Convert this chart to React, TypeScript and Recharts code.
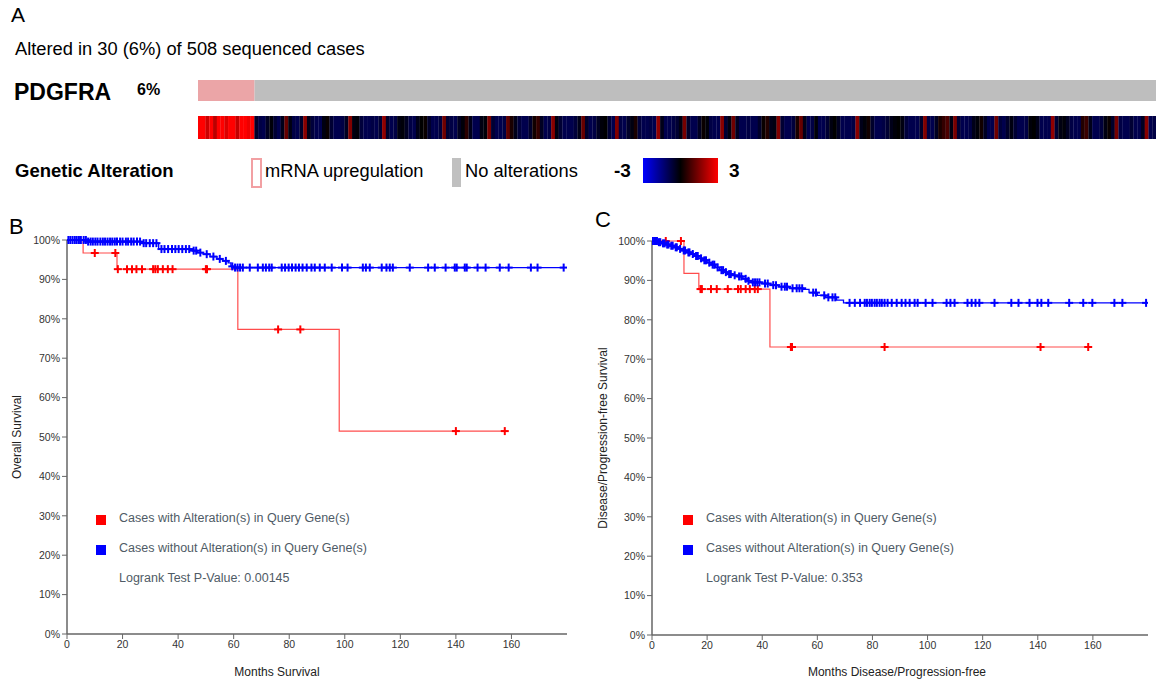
import { BarChart, Bar, Cell, XAxis, YAxis, ComposedChart, Line } from "recharts";

// ---- panel A: oncoprint ----
const GENE = "PDGFRA";
const ALTERED_CASES = 30;
const UNALTERED_CASES = 478;

// mRNA z-scores, one stripe = 2 cases (altered block first)
const HEAT_ALTERED = [3, 3, 2.4, 3, 2.2, 3, 3, 2.6, 3, 3, 2.3, 3, 3, 2.8, 3];
const HEAT_UNALTERED = [
  -0.5, -0.8, -0.9, -0.4, -0.1, -0.6, -0.9, -0.3, 1.2, -0.2, -0.8, -0.9, -0.5, 1.6, -0.3, -0.7, -0.9, -0.9, -0.2, 0.1, -0.6, -0.9, -0.9, -0.8, -0.4, 1.5, -0.2, -0.1, -0.7, -0.9,
  -0.9, -0.8, -0.9, -0.6, 1.7, -0.5, -0.9, -0.8, -0.2, -0.1, -0.4, -0.8, -0.9, -0.3, 0.0, 0.1, -0.5, -0.9, -0.9, -0.7, 1.3, -0.6, -0.8, -0.9, -0.4, -0.1, 0.5, -0.3, -0.9, -0.9,
  -0.2, -0.1, 1.4, -0.6, -0.9, -0.9, -0.8, 1.1, 0.3, -0.3, -0.7, -0.9, -0.9, -0.5, 0.2, 0.6, -0.4, -0.9, -0.8, 1.6, -0.2, -0.6, -0.9, -0.9, -0.9, -0.7, -0.3, 1.2, -0.5, -0.9,
  -0.8, -0.4, -0.1, 0.0, -0.6, -0.9, 1.5, -0.8, -0.9, -0.5, -0.2, 0.3, -0.7, -0.9, -0.9, -0.8, -0.9, 1.7, -0.3, -0.9, -0.9, -0.8, -0.6, -0.2, 1.4, -0.5, -0.9, -0.9, -0.4, 0.1,
  -0.1, -0.8, -0.9, -0.9, 1.6, -0.6, -0.2, 1.3, -0.4, -0.9, -0.9, -0.8, -0.9, -0.9, -0.5, 0.1, 0.4, -0.3, -0.2, 1.5, -0.6, -0.9, -0.9, -0.7, 0.3, 1.2, -0.3, -0.9, -0.8, -0.1,
  -0.9, -0.9, -0.6, -0.2, 0.0, -0.4, -0.9, -0.9, -0.9, -0.8, 1.6, -0.3, -0.1, 0.2, -0.5, -0.9, -0.9, -0.8, -0.6, -0.3, -0.1, 0.0, -0.2, -0.7, -0.9, -0.9, -0.9, -0.5, 1.5, -0.8,
  -0.9, -0.4, 0.3, 0.6, 0.9, -0.2, 1.4, -0.6, -0.9, -0.9, -0.8, -0.3, -0.1, 0.2, -0.4, -0.9, -0.9, 1.3, -0.7, -0.9, -0.5, -0.2, -0.6, -0.9, -0.9, -0.8, -0.1, 0.0, -0.3, -0.9,
  -0.9, -0.9, 1.7, -0.6, -0.2, -0.1, -0.4, -0.8, -0.9, -0.9, 0.4, 0.7, -0.3, -0.9, -0.9, -0.7, -0.2, 0.1, -0.5, 1.4, -0.8, -0.9, -0.9, -0.6, -0.9, -0.9, -0.4, 1.6, -0.9, -0.8,
];

// ---- panel B: overall survival (months, %) ----
const OS_ALT_STEPS: [number, number][] = [[0, 100], [5.8, 96.7], [18, 92.6], [61.5, 77.3], [98, 51.5]];
const OS_ALT_CENSOR = [10, 17.4, 18.3, 21.6, 23.4, 25, 27, 31, 31.8, 32.7, 34.5, 36.3, 38, 50, 50.4, 76, 84, 140, 157.6];
const OS_UNALT_STEPS: [number, number][] = [
  [0, 100], [7, 99.6], [27, 99.2], [33, 97.7], [45, 97.3], [47, 96.8], [49, 96.4],
  [51.5, 95.8], [54, 95.2], [56, 94.7], [58, 94.2], [59, 93.3], [60, 93.0],
];
const OS_UNALT_CENSOR = [
  0.5, 1.2, 2, 2.8, 3.5, 4.3, 5, 6, 6.8, 7.6, 8.5, 9.3, 10.2, 11, 12, 12.9, 13.7, 14.6, 15.5, 16.3, 17.2, 18, 19.1, 20, 21.2, 22, 23.1, 24,
  25.2, 26.3, 27.6, 28.5, 29.8, 31, 32.2, 34, 35.1, 36.4, 37.8, 39, 40.2, 41.5, 42.8, 44, 45.6, 46.5, 48, 50.3, 52.7, 55, 57.2, 59.5,
  60.5, 61.4, 62.3, 63.3, 65.8, 68.7, 70.5, 71.6, 72.8, 73.7, 77.3, 78.5, 79.8, 81, 82.3, 83.5, 84.8, 86.3, 88, 89.2, 91, 92.8, 95.3,
  99, 101, 106.5, 107.6, 109, 113.3, 115, 116.2, 117.3, 123.4, 130, 132.4, 136.3, 139.6, 140.3, 143.2, 143.9, 147.8, 150.7, 155.8,
  159, 167, 169.4, 178.8,
];

// ---- panel C: disease/progression-free survival ----
const DFS_ALT_STEPS: [number, number][] = [[0, 100], [11.6, 91.8], [17, 87.8], [42.8, 73.1]];
const DFS_ALT_CENSOR = [5, 10.5, 17.6, 18.1, 21.4, 23.5, 27.5, 31.2, 32.2, 34, 35.5, 37.3, 38.4, 50.4, 50.8, 84.4, 141, 158.3];
const DFS_UNALT_STEPS: [number, number][] = [
  [0, 100], [2, 99.7], [3.5, 99.4], [5, 99.1], [6.5, 98.8], [8, 98.4], [9.5, 98.0], [11, 97.6], [12.5, 97.1],
  [14, 96.7], [15.5, 96.2], [17, 95.6], [18.5, 95.1], [20, 94.5], [21.5, 94.0], [23, 93.3], [24.5, 92.6],
  [26, 92.1], [27.5, 91.6], [29, 91.3], [31, 91.0], [33, 90.4], [34.5, 89.9], [36, 89.5], [40, 89.2],
  [43, 88.8], [46, 88.4], [50, 88.0], [55, 87.7], [57, 86.9], [60, 86.2], [63, 85.7], [67, 85.0], [69.5, 84.3],
];
const DFS_UNALT_CENSOR = [
  0.3, 0.8, 1.3, 1.8, 2.5, 3, 4, 4.6, 5.5, 6, 7, 7.5, 8.6, 9, 10.2, 11.5, 12, 13.2, 13.6, 14.8, 16, 16.6, 17.8, 19, 19.6, 20.8, 22,
  22.6, 23.8, 25.2, 25.8, 26.8, 28, 28.6, 30, 31.6, 32.4, 34, 35, 36.6, 37.4, 38.2, 39, 41, 42, 44, 45, 47, 48.2, 49, 51, 52.5, 53.5,
  54.5, 58.5, 59.5, 62.5, 64, 65.5, 66.5, 71.7, 73.6, 75.5, 77.2, 78, 79, 79.8, 80.8, 81.6, 82.6, 83.4, 84.4, 85.5, 87, 88.8, 90.6,
  92, 93.5, 95.3, 96.4, 99.3, 101.8, 106.9, 108.3, 109.8, 114.5, 116, 117.4, 118.8, 124.3, 130.4, 133, 137, 139.9, 141.3, 143.8,
  151.4, 156.5, 159.8, 167.8, 170.7, 179.3,
];

const MONTH_TICKS = [0, 20, 40, 60, 80, 100, 120, 140, 160];
const PCT_TICKS = [0, 10, 20, 30, 40, 50, 60, 70, 80, 90, 100];

const RED = "#ff0000";
const BLUE = "#0000ff";
const FONT = "Arial, 'Liberation Sans', Helvetica, sans-serif";

function zColor(z: number) {
  const k = Math.min(1, Math.abs(z) / 3);
  const c = Math.round(255 * k);
  return z >= 0 ? `rgb(${c},0,0)` : `rgb(0,0,${c})`;
}

function buildCurve(steps: [number, number][], censor: number[]) {
  const levelAt = (t: number) => {
    let s = steps[0][1];
    for (const [st, sv] of steps) if (st <= t) s = sv;
    return s;
  };
  const pts = [
    ...steps.map(([t, s]) => ({ t, s, c: false })),
    ...censor.map((t) => ({ t, s: levelAt(t), c: true })),
  ];
  return pts.sort((a, b) => a.t - b.t || Number(a.c) - Number(b.c));
}

const censorDot = (color: string) => (props: any) => {
  const { cx, cy, payload, index } = props;
  if (!payload || !payload.c) return <g key={`n${index}`} />;
  return (
    <g key={`c${index}`} stroke={color} strokeWidth={2}>
      <line x1={cx - 4} x2={cx + 4} y1={cy} y2={cy} />
      <line x1={cx} x2={cx} y1={cy - 4} y2={cy + 4} />
    </g>
  );
};

const abs = (l: number, t: number, extra: any = {}) => ({ position: "absolute" as const, left: l, top: t, ...extra });

function SurvivalPanel(props: {
  left: number; top: number; width: number; height: number; right: number;
  alt: any[]; unalt: any[]; pValue: string; xTitle: string; yTitle: string;
  xTitleX: number; yTitleX: number; legendX: number;
}) {
  const { left, top, width, height, alt, unalt } = props;
  const legendText = { fontSize: 12.5, color: "#4f5b66", whiteSpace: "nowrap" as const };
  const tickStyle = { fontSize: 10.5, fill: "#333", fontFamily: FONT };
  return (
    <>
      <div style={abs(left, top)}>
        <ComposedChart width={width} height={height} margin={{ top: 15, right: props.right, bottom: 0, left: 0 }}>
          <XAxis
            type="number" dataKey="t" domain={[0, 180]} ticks={MONTH_TICKS} allowDataOverflow
            height={height - 15 - 394}
            tick={tickStyle}
            tickLine={{ stroke: "#666" }} axisLine={{ stroke: "#666", strokeWidth: 1.5 }} tickSize={5}
          />
          <YAxis
            type="number" dataKey="s" domain={[0, 100]} ticks={PCT_TICKS} width={67}
            tickFormatter={(v) => `${v}%`}
            tick={tickStyle}
            tickLine={{ stroke: "#666" }} axisLine={{ stroke: "#666", strokeWidth: 1.5 }} tickSize={5}
          />
          <Line data={alt} dataKey="s" type="stepAfter" stroke={RED} strokeOpacity={0.7} strokeWidth={1.2}
            dot={censorDot(RED)} activeDot={false} isAnimationActive={false} />
          <Line data={unalt} dataKey="s" type="stepAfter" stroke={BLUE} strokeWidth={1.3}
            dot={censorDot(BLUE)} activeDot={false} isAnimationActive={false} />
        </ComposedChart>
      </div>
      <div style={abs(props.yTitleX - 100, top + 15 + 197 - 8, { width: 200, height: 16, textAlign: "center", fontSize: 12, color: "#222", transform: "rotate(-90deg)", whiteSpace: "nowrap" })}>
        {props.yTitle}
      </div>
      <div style={abs(props.xTitleX - 150, 665, { width: 300, textAlign: "center", fontSize: 12, color: "#222" })}>
        {props.xTitle}
      </div>
      <div style={abs(props.legendX, 515, { width: 10, height: 10, background: RED })} />
      <div style={abs(props.legendX + 23, 511, legendText)}>Cases with Alteration(s) in Query Gene(s)</div>
      <div style={abs(props.legendX, 545, { width: 10, height: 10, background: BLUE })} />
      <div style={abs(props.legendX + 23, 541, legendText)}>Cases without Alteration(s) in Query Gene(s)</div>
      <div style={abs(props.legendX + 23, 571, legendText)}>Logrank Test P-Value: {props.pValue}</div>
    </>
  );
}

export default function App() {
  const heat = [...HEAT_ALTERED, ...HEAT_UNALTERED].map((z, i) => ({ i, z, v: 1 }));
  const onco = [{ gene: GENE, altered: ALTERED_CASES, unaltered: UNALTERED_CASES }];
  const total = ALTERED_CASES + UNALTERED_CASES;

  return (
    <div style={{ position: "absolute", left: 0, top: 0, width: 1156, height: 682, background: "#fff", fontFamily: FONT, color: "#000", overflow: "hidden" }}>
      {/* Panel A */}
      <div style={abs(11, 3, { fontSize: 21 })}>A</div>
      <div style={abs(15, 38, { fontSize: 18.3 })}>Altered in 30 (6%) of 508 sequenced cases</div>
      <div style={abs(14, 79, { fontSize: 23, fontWeight: 700 })}>{GENE}</div>
      <div style={abs(137, 81, { fontSize: 16, fontWeight: 700 })}>6%</div>

      <div style={abs(198, 80)}>
        <BarChart width={958} height={21} data={onco} layout="vertical" margin={{ top: 0, right: 0, bottom: 0, left: 0 }} barCategoryGap={0}>
          <XAxis type="number" domain={[0, total]} hide />
          <YAxis type="category" dataKey="gene" hide />
          <Bar dataKey="altered" stackId="o" fill="#eba5a7" isAnimationActive={false} />
          <Bar dataKey="unaltered" stackId="o" fill="#bebebe" isAnimationActive={false} />
        </BarChart>
      </div>
      <div style={abs(198, 116)}>
        <BarChart width={958} height={23} data={heat} margin={{ top: 0, right: 0, bottom: 0, left: 0 }} barCategoryGap={0} barGap={0}>
          <XAxis dataKey="i" hide />
          <YAxis domain={[0, 1]} hide />
          <Bar dataKey="v" isAnimationActive={false}>
            {heat.map((d) => (
              <Cell key={d.i} fill={zColor(d.z)} />
            ))}
          </Bar>
        </BarChart>
      </div>

      <div style={abs(15, 160, { fontSize: 18.5, fontWeight: 700 })}>Genetic Alteration</div>
      <div style={abs(251, 158, { width: 7, height: 26, border: "2px solid #f2a0a3", background: "#fff" })} />
      <div style={abs(265, 160, { fontSize: 18.3 })}>mRNA upregulation</div>
      <div style={abs(452, 158, { width: 9, height: 29, background: "#c0c0c0" })} />
      <div style={abs(465, 160, { fontSize: 18.3 })}>No alterations</div>
      <div style={abs(614, 160, { fontSize: 19, fontWeight: 700 })}>-3</div>
      <div style={abs(643, 158, { width: 75, height: 25, background: "linear-gradient(to right, #0000ff, #000000 50%, #ff0000)" })} />
      <div style={abs(729, 160, { fontSize: 19, fontWeight: 700 })}>3</div>

      {/* Panel B */}
      <div style={abs(9, 214, { fontSize: 22 })}>B</div>
      <SurvivalPanel
        left={0} top={225} width={580} height={457} right={13}
        alt={buildCurve(OS_ALT_STEPS, OS_ALT_CENSOR)}
        unalt={buildCurve(OS_UNALT_STEPS, OS_UNALT_CENSOR)}
        pValue="0.00145" xTitle="Months Survival" yTitle="Overall Survival"
        xTitleX={277} yTitleX={18} legendX={96}
      />

      {/* Panel C */}
      <div style={abs(595, 207, { fontSize: 22 })}>C</div>
      <SurvivalPanel
        left={585} top={226} width={571} height={456} right={8}
        alt={buildCurve(DFS_ALT_STEPS, DFS_ALT_CENSOR)}
        unalt={buildCurve(DFS_UNALT_STEPS, DFS_UNALT_CENSOR)}
        pValue="0.353" xTitle="Months Disease/Progression-free" yTitle="Disease/Progression-free Survival"
        xTitleX={897} yTitleX={604} legendX={683}
      />
    </div>
  );
}
